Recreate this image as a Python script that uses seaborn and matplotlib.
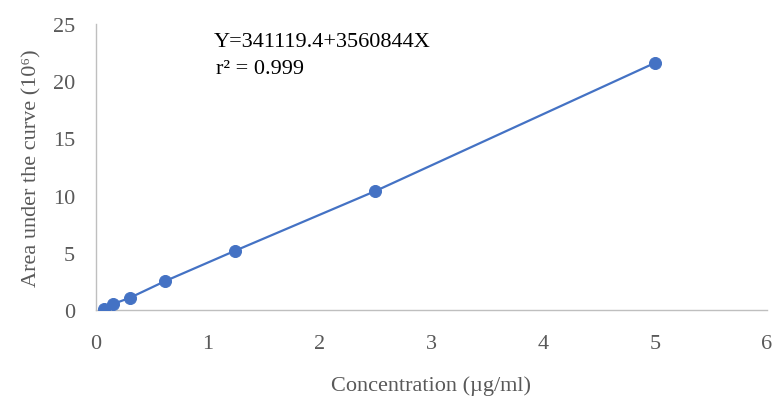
import matplotlib
matplotlib.use("Agg")
import matplotlib.pyplot as plt
import seaborn as sns
import pandas as pd

# calibration points
concentration = [0.072, 0.152, 0.30, 0.62, 1.24, 2.5, 5.0]
area = [0.09, 0.52, 1.05, 2.53, 5.16, 10.4, 21.6]
x_ticks = [0, 1, 2, 3, 4, 5, 6]
y_ticks = [0, 5, 10, 15, 20, 25]

df = pd.DataFrame({"conc": concentration, "area": area})

sns.set_style("white")
plt.rcParams['font.family'] = ['Liberation Serif', 'DejaVu Serif']

blue = "#4472C4"
grey_text = "#595959"

fig = plt.figure(figsize=(7.84, 4.02), dpi=100)
ax = fig.add_axes([0.1224, 0.2264, 0.8556, 0.7114])

sns.lineplot(data=df, x="conc", y="area", color=blue, linewidth=1.6, ax=ax)
sns.scatterplot(data=df, x="conc", y="area", color=blue, s=75, edgecolor=blue, zorder=3, ax=ax)

ax.set_xlim(0, 6)
ax.set_ylim(0, 25)
ax.set_xticks(x_ticks)
ax.set_yticks(y_ticks)
ax.tick_params(length=0, labelsize=16, colors=grey_text)
ax.tick_params(axis="y", pad=15)
ax.tick_params(axis="x", pad=17)

for side in ["top", "right"]:
    ax.spines[side].set_visible(False)
for side in ["left", "bottom"]:
    ax.spines[side].set_color("#BFBFBF")
    ax.spines[side].set_linewidth(1)

ax.set_xlabel("Concentration (µg/ml)", fontsize=16, color=grey_text, labelpad=16)
ax.set_ylabel("Area under the curve (10⁶)", fontsize=16, color=grey_text, labelpad=8)

ax.text(1.05, 23.5, "Y=341119.4+3560844X", fontsize=16, color="black", va="center")
ax.text(1.07, 21.1, "r² = 0.999", fontsize=16, color="black", va="center")

plt.savefig("out.png", dpi=100)
plt.close()
